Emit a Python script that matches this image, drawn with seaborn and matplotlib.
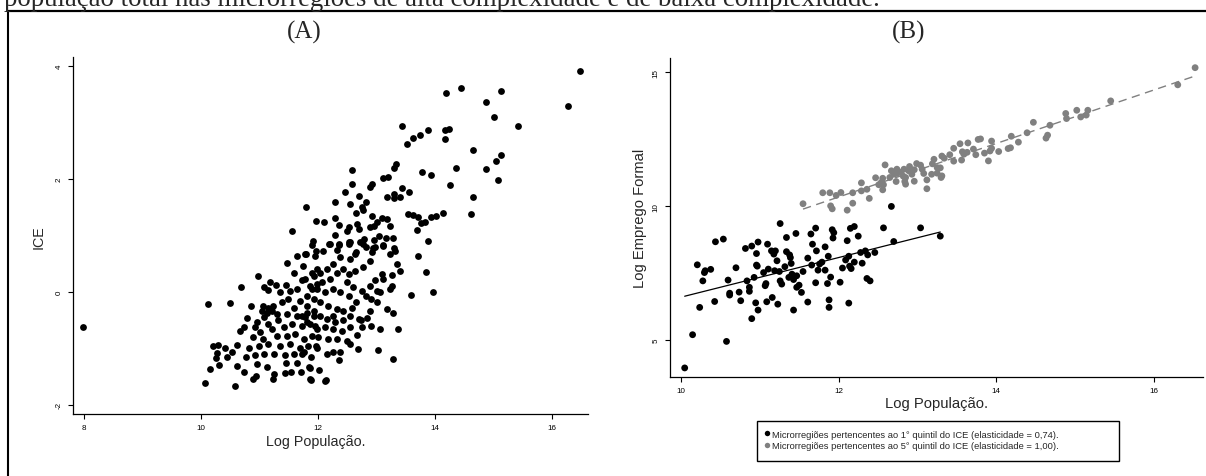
import numpy as np
import pandas as pd
import matplotlib
matplotlib.use("Agg")
import matplotlib.pyplot as plt
from matplotlib.patches import Rectangle
from matplotlib.lines import Line2D
import seaborn as sns

# ---------------- data ----------------
caption = "população total nas microrregiões de alta complexidade e de baixa complexidade."
panel_titles = ["(A)", "(B)"]
x_label = "Log População."
y_label_a = "ICE"
y_label_b = "Log Emprego Formal"
x_ticks_a = [8, 10, 12, 14, 16]
y_ticks_a = [-2, 0, 2, 4]
x_ticks_b = [10, 12, 14, 16]
y_ticks_b = [5, 10, 15]

# Panel A: (Log População, ICE)
ice_points = [
    (16.49, 3.92), (16.28, 3.30), (14.45, 3.61), (14.19, 3.52), (15.14, 3.56), (14.87, 3.36),
    (15.01, 3.09), (15.43, 2.94), (13.45, 2.93), (13.52, 2.62), (13.63, 2.73), (13.75, 2.77),
    (13.89, 2.86), (14.17, 2.86), (14.24, 2.88), (14.17, 2.71), (14.65, 2.51), (15.14, 2.42),
    (15.04, 2.32), (14.88, 2.18), (14.37, 2.19), (15.08, 1.98), (13.79, 2.13), (13.94, 2.07),
    (14.27, 1.89), (14.66, 1.68), (14.62, 1.37), (14.14, 1.40), (13.34, 2.26), (13.30, 2.19),
    (13.21, 2.04), (13.12, 2.01), (12.93, 1.91), (12.89, 1.86), (12.59, 2.15), (12.58, 1.91),
    (12.47, 1.77), (12.71, 1.69), (12.82, 1.59), (12.56, 1.55), (12.29, 1.59), (11.80, 1.51),
    (13.45, 1.84), (13.56, 1.77), (13.19, 1.68), (13.30, 1.73), (13.30, 1.66), (13.40, 1.68),
    (13.55, 1.38), (13.63, 1.36), (13.72, 1.33), (13.77, 1.22), (13.84, 1.24), (13.94, 1.32),
    (14.02, 1.34), (13.69, 1.10), (13.89, 0.90), (12.76, 1.50), (12.77, 1.44), (12.65, 1.39),
    (12.29, 1.31), (11.97, 1.25), (12.11, 1.23), (12.37, 1.18), (12.53, 1.15), (12.67, 1.20),
    (12.71, 1.12), (12.93, 1.34), (13.10, 1.30), (13.18, 1.29), (13.23, 1.16), (13.01, 1.23),
    (12.97, 1.16), (12.90, 1.14), (12.29, 1.01), (12.50, 1.08), (13.05, 0.99), (13.17, 0.95),
    (13.29, 0.96), (12.80, 0.93), (12.73, 0.89), (12.56, 0.89), (12.96, 0.92), (11.92, 0.90),
    (11.91, 0.83), (12.19, 0.85), (12.37, 0.85), (12.53, 0.85), (12.83, 0.79), (12.94, 0.78),
    (13.12, 0.81), (13.31, 0.77), (11.97, 0.72), (12.33, 0.74), (12.66, 0.70), (11.56, 1.08),
    (11.64, 0.63), (11.80, 0.66), (11.47, 0.51), (11.75, 0.46), (11.60, 0.34), (11.90, 0.34),
    (11.99, 0.41), (10.98, 0.28), (11.74, 0.20), (11.09, 0.08), (11.19, 0.18), (11.29, 0.12),
    (11.16, 0.03), (10.69, 0.08), (11.46, 0.12), (11.53, 0.02), (11.35, 0.00), (11.64, 0.05),
    (11.90, 0.05), (11.99, 0.14), (10.12, -0.22), (10.50, -0.20), (10.86, -0.25), (11.07, -0.25),
    (11.16, -0.28), (11.24, -0.25), (11.05, -0.34), (11.13, -0.37), (11.22, -0.34), (11.30, -0.40),
    (11.09, -0.44), (11.39, -0.19), (11.50, -0.13), (11.59, -0.28), (11.70, -0.16), (11.82, -0.25),
    (11.93, -0.13), (11.47, -0.40), (11.64, -0.43), (11.79, -0.45), (11.93, -0.43), (10.79, -0.47),
    (11.33, -0.51), (10.96, -0.54), (11.16, -0.57), (10.74, -0.63), (10.68, -0.69), (10.93, -0.63),
    (11.02, -0.72), (11.22, -0.66), (11.42, -0.63), (11.56, -0.57), (11.73, -0.60), (11.87, -0.57),
    (11.99, -0.66), (10.90, -0.81), (11.07, -0.84), (11.30, -0.78), (11.47, -0.78), (11.62, -0.75),
    (11.76, -0.84), (11.90, -0.78), (10.22, -0.96), (10.30, -0.95), (10.42, -0.99), (10.62, -0.95),
    (10.83, -1.00), (10.99, -0.96), (11.16, -0.93), (11.36, -0.96), (11.53, -0.93), (11.70, -0.99),
    (11.84, -0.96), (11.97, -0.96), (10.28, -1.09), (10.54, -1.07), (10.45, -1.15), (10.27, -1.18),
    (10.78, -1.16), (10.93, -1.13), (11.09, -1.10), (11.26, -1.10), (11.44, -1.13), (11.59, -1.10),
    (11.73, -1.10), (11.89, -1.16), (10.32, -1.30), (10.63, -1.31), (10.97, -1.28), (11.13, -1.34),
    (11.46, -1.26), (11.64, -1.26), (10.16, -1.37), (10.75, -1.43), (10.95, -1.50), (10.90, -1.55),
    (11.26, -1.46), (11.24, -1.54), (11.44, -1.44), (11.55, -1.42), (11.71, -1.42), (11.86, -1.34),
    (11.87, -1.55), (10.07, -1.61), (10.59, -1.67), (12.14, -1.57), (7.99, -0.63),
    (13.71, 0.63), (13.85, 0.35), (13.97, 0.00), (13.59, -0.06), (13.38, -0.66), (13.06, -0.66),
    (13.29, -1.19), (13.03, -1.03), (12.69, -1.02), (12.36, -1.21), (12.13, -1.58), (11.88, -1.56),
    (11.87, -1.35), (12.03, -1.38), (13.19, -0.31), (13.29, -0.37), (12.91, -0.60), (12.84, -0.47),
    (12.90, -0.35), (12.67, -0.77), (12.74, -0.51), (12.56, -0.93), (12.38, -1.06), (12.27, -1.07),
    (12.16, -1.10), (13.01, -0.19), (12.91, -0.13), (12.83, -0.08), (12.66, -0.19), (12.58, -0.28),
    (12.44, -0.34), (12.33, -0.31), (12.18, -0.25), (12.04, -0.19), (11.82, -0.07), (13.07, -0.01),
    (13.02, 0.02), (13.23, 0.05), (13.27, 0.11), (13.12, 0.23), (13.10, 0.31), (12.98, 0.20),
    (12.90, 0.11), (12.76, 0.02), (12.61, 0.08), (12.53, -0.07), (12.38, -0.01), (12.27, 0.05),
    (12.13, -0.01), (11.99, 0.05), (11.87, 0.11), (13.27, 0.30), (13.41, 0.37), (13.35, 0.49),
    (13.32, 0.73), (13.24, 0.67), (13.12, 0.82), (12.98, 0.80), (12.93, 0.70), (12.90, 0.55),
    (12.78, 0.43), (12.64, 0.37), (12.53, 0.31), (12.44, 0.40), (12.27, 0.49), (12.16, 0.40),
    (12.04, 0.34), (11.93, 0.28), (11.79, 0.23), (11.79, 0.67), (11.96, 0.64), (12.10, 0.73),
    (12.21, 0.85), (12.36, 0.82), (12.53, 0.88), (12.64, 0.67), (12.78, 0.85), (12.38, 0.61),
    (12.56, 0.58), (12.50, 0.17), (12.21, 0.23), (12.33, 0.34), (12.07, 0.17), (12.04, -0.43),
    (12.16, -0.48), (12.30, -0.54), (12.44, -0.51), (12.56, -0.43), (12.70, -0.48), (12.76, -0.63),
    (12.56, -0.63), (12.41, -0.69), (12.27, -0.66), (12.13, -0.63), (11.96, -0.60), (11.82, -0.54),
    (12.01, -0.81), (12.18, -0.84), (12.33, -0.84), (12.50, -0.87), (11.99, -0.99), (11.76, -1.07),
    (11.82, -0.37), (11.93, -0.34), (12.27, -0.43), (11.73, -0.43),
]

# Panel B: (Log População, Log Emprego Formal), 1st quintile of ICE
q1_points = [
    (10.05, 3.96), (10.15, 5.20), (10.58, 4.95), (10.24, 6.22), (10.43, 6.44), (10.21, 7.81),
    (10.28, 7.21), (10.30, 7.52), (10.31, 7.59), (10.38, 7.64), (10.44, 8.67), (10.54, 8.77),
    (10.60, 7.24), (10.62, 6.75), (10.62, 6.68), (10.70, 7.70), (10.74, 6.79), (10.76, 6.47),
    (10.82, 8.42), (10.84, 7.21), (10.87, 6.97), (10.87, 6.82), (10.90, 5.80), (10.90, 8.51),
    (10.93, 7.34), (10.95, 6.39), (10.96, 8.23), (10.96, 7.80), (10.97, 7.76), (10.98, 8.66),
    (10.98, 6.12), (11.05, 7.52), (11.07, 7.03), (11.08, 7.11), (11.09, 6.43), (11.10, 8.58),
    (11.11, 7.65), (11.15, 8.33), (11.16, 6.59), (11.18, 8.21), (11.20, 8.33), (11.19, 7.59),
    (11.22, 7.96), (11.23, 6.34), (11.25, 7.56), (11.26, 9.35), (11.26, 7.21), (11.28, 7.09),
    (11.32, 7.74), (11.34, 8.30), (11.34, 8.83), (11.37, 7.34), (11.38, 8.18), (11.39, 8.08),
    (11.40, 7.86), (11.41, 7.46), (11.43, 7.26), (11.43, 6.12), (11.46, 8.98), (11.47, 7.40),
    (11.47, 6.97), (11.50, 7.05), (11.53, 6.78), (11.55, 7.56), (11.61, 6.42), (11.61, 8.06),
    (11.65, 8.96), (11.66, 7.80), (11.67, 8.58), (11.71, 7.14), (11.71, 9.18), (11.72, 8.33),
    (11.74, 7.61), (11.76, 7.84), (11.79, 7.91), (11.83, 7.61), (11.83, 8.48), (11.86, 7.11),
    (11.87, 8.13), (11.88, 6.22), (11.88, 6.50), (11.90, 7.35), (11.92, 9.12), (11.93, 8.81),
    (11.94, 9.01), (12.02, 7.16), (12.05, 7.69), (12.09, 7.99), (12.11, 8.71), (12.13, 6.38),
    (12.13, 8.13), (12.15, 9.17), (12.14, 7.76), (12.16, 7.67), (12.20, 9.24), (12.20, 7.91),
    (12.25, 8.88), (12.28, 8.27), (12.30, 7.87), (12.34, 8.33), (12.37, 8.18), (12.36, 7.30),
    (12.40, 7.21), (12.46, 8.27), (12.67, 9.99), (13.04, 9.19), (13.29, 8.88), (12.70, 8.68),
    (12.57, 9.19),
]

# Panel B: 5th quintile of ICE
q5_points = [
    (16.52, 15.17), (16.30, 14.53), (15.45, 13.93), (15.16, 13.58), (15.14, 13.40), (15.07, 13.33),
    (15.02, 13.58), (14.89, 13.27), (14.88, 13.46), (14.68, 13.02), (14.65, 12.65), (14.63, 12.54),
    (14.47, 13.13), (14.39, 12.74), (14.28, 12.39), (14.19, 12.61), (14.18, 12.18), (14.15, 12.15),
    (14.03, 12.04), (13.94, 12.43), (13.94, 12.16), (13.90, 11.69), (13.85, 11.98), (13.80, 12.51),
    (13.77, 12.49), (13.74, 11.92), (13.71, 12.13), (13.64, 12.36), (13.63, 12.01), (13.57, 12.03),
    (13.56, 11.72), (13.54, 12.33), (13.46, 12.16), (13.46, 11.68), (13.41, 11.92), (13.34, 11.79),
    (13.31, 11.87), (13.29, 11.43), (13.31, 11.13), (13.30, 11.07), (13.25, 11.23), (13.21, 11.75),
    (13.19, 11.58), (13.18, 11.19), (13.12, 10.98), (13.12, 10.65), (13.08, 11.22), (13.04, 11.53),
    (12.99, 11.59), (12.96, 11.36), (12.96, 10.93), (12.93, 11.19), (12.90, 11.48), (12.89, 11.32),
    (12.84, 10.92), (12.82, 11.12), (12.79, 11.26), (12.74, 11.38), (12.73, 10.92), (12.70, 11.19),
    (12.67, 11.32), (12.65, 11.07), (12.59, 11.54), (12.57, 10.80), (12.56, 10.61), (12.56, 11.04),
    (12.54, 10.88), (12.51, 10.80), (12.47, 11.06), (12.39, 10.29), (12.36, 10.63), (12.29, 10.87),
    (12.29, 10.57), (12.18, 10.50), (12.18, 10.11), (12.11, 9.85), (12.03, 10.51), (11.97, 10.40),
    (11.92, 9.90), (11.90, 10.01), (11.89, 10.50), (11.80, 10.50), (11.55, 10.09), (12.74, 11.22),
    (12.83, 11.38), (12.85, 11.07), (13.06, 11.38), (13.25, 11.44), (13.59, 11.94), (13.92, 12.06),
    (12.85, 10.82),
]

group_labels = [
    "Microrregiões pertencentes ao 1° quintil do ICE (elasticidade = 0,74).",
    "Microrregiões pertencentes ao 5° quintil do ICE (elasticidade = 1,00).",
]
elasticities = [0.74, 1.00]
intercepts = [-0.80, -1.66]

# ---------------- styling ----------------
sns.set_theme(style="ticks")
SANS = ["Liberation Sans", "DejaVu Sans"]
SERIF = ["Liberation Serif", "DejaVu Serif"]
plt.rcParams["font.family"] = SANS
plt.rcParams["axes.linewidth"] = 0.9
plt.rcParams["xtick.major.width"] = 0.8
plt.rcParams["ytick.major.width"] = 0.8
plt.rcParams["xtick.color"] = "black"
plt.rcParams["ytick.color"] = "black"
plt.rcParams["axes.edgecolor"] = "black"

W, H = 1206, 477
fig = plt.figure(figsize=(W / 100, H / 100), dpi=100)
fig.patch.set_facecolor("white")

DOT = 24


def frac_box(x0, y0, x1, y1):
    return [x0 / W, 1 - y1 / H, (x1 - x0) / W, (y1 - y0) / H]


def style_axes(ax, xt, yt):
    sns.despine(ax=ax)
    ax.set_xticks(xt)
    ax.set_yticks(yt)
    ax.set_xticklabels([str(v) for v in xt])
    ax.set_yticklabels([str(v) for v in yt])
    ax.tick_params(axis="both", direction="out", length=3.8, labelsize=5.8, pad=3.4,
                   colors="black")
    ax.tick_params(axis="y", labelrotation=90)
    for lab in ax.get_yticklabels():
        lab.set_va("center")
    ax.grid(False)
    ax.set_facecolor("white")


# ---------------- Panel A ----------------
axA = fig.add_axes(frac_box(73, 58.3, 588, 415))
df_a = pd.DataFrame(ice_points, columns=["logpop", "ice"])
sns.scatterplot(data=df_a, x="logpop", y="ice", ax=axA, color="black", s=DOT,
                linewidth=0, legend=False)
axA.set_xlim(7.82, 16.62)
axA.set_ylim(-2.168, 4.156)
style_axes(axA, x_ticks_a, y_ticks_a)
axA.set_xlabel(x_label, fontsize=10.3, va="center")
axA.xaxis.set_label_coords((316 - 73) / 515, -(441.7 - 415) / 356.7)
axA.set_ylabel(y_label_a, fontsize=10.3, va="center")
axA.yaxis.set_label_coords(-(73 - 38.5) / 515, 0.5)

# ---------------- Panel B ----------------
axB = fig.add_axes(frac_box(669.7, 59.3, 1203, 378.3))
df_q1 = pd.DataFrame(q1_points, columns=["logpop", "logemp"])
df_q1["grupo"] = group_labels[0]
df_q5 = pd.DataFrame(q5_points, columns=["logpop", "logemp"])
df_q5["grupo"] = group_labels[1]
df_b = pd.concat([df_q1, df_q5], ignore_index=True)
palette = {group_labels[0]: "black", group_labels[1]: "#808080"}
sns.scatterplot(data=df_b, x="logpop", y="logemp", hue="grupo", palette=palette,
                s=DOT, linewidth=0, ax=axB, legend=True)

# fitted lines from the reported elasticities
line_rows = []
for lab, df_g, b, a in zip(group_labels, [df_q1, df_q5], elasticities, intercepts):
    for xv in (df_g["logpop"].min(), df_g["logpop"].max()):
        line_rows.append({"grupo": lab, "logpop": xv, "fit": a + b * xv})
df_lines = pd.DataFrame(line_rows)
sns.lineplot(data=df_lines[df_lines["grupo"] == group_labels[0]], x="logpop", y="fit",
             color="black", linewidth=0.9, ax=axB, legend=False)
sns.lineplot(data=df_lines[df_lines["grupo"] == group_labels[1]], x="logpop", y="fit",
             color="#808080", linewidth=1.0, ax=axB, legend=False,
             dashes=False, linestyle=(0, (6, 4)))

axB.set_xlim(9.86, 16.62)
axB.set_ylim(3.61, 15.52)
style_axes(axB, x_ticks_b, y_ticks_b)
axB.set_xlabel(x_label, fontsize=10.6, va="center")
axB.xaxis.set_label_coords(0.501, -(404.3 - 378.3) / 319)
axB.set_ylabel(y_label_b, fontsize=10.6, va="center")
axB.yaxis.set_label_coords(-(669.7 - 640) / 533.3, 0.5)

# legend below panel B
handles, labels = axB.get_legend_handles_labels()
axB.legend(handles, labels, loc="center left",
           bbox_to_anchor=(764.5 / W, 1 - 441 / H), bbox_transform=fig.transFigure,
           frameon=False, fontsize=6.75, handlelength=0.5, handletextpad=0.35,
           borderpad=0, borderaxespad=0, labelspacing=0.28, markerscale=0.8)
fig.add_artist(Rectangle((756.7 / W, 1 - 461.7 / H), (1119.3 - 756.7) / W,
                         (461.7 - 422.3) / H, transform=fig.transFigure,
                         fill=False, edgecolor="black", linewidth=1.0))

# ---------------- page frame and headers ----------------
fig.add_artist(Line2D([6.8 / W, 1.0], [1 - 12.3 / H, 1 - 12.3 / H],
                      transform=fig.transFigure, color="black", linewidth=1.6))
fig.add_artist(Line2D([7.7 / W, 7.7 / W], [0, 1 - 12.3 / H],
                      transform=fig.transFigure, color="black", linewidth=1.5))
fig.text(304.5 / W, 1 - 32.5 / H, panel_titles[0], family=SERIF, fontsize=18,
         ha="center", va="center")
fig.text(908.5 / W, 1 - 32.5 / H, panel_titles[1], family=SERIF, fontsize=18,
         ha="center", va="center")

cap = fig.text(4 / W, 1 - 5.5 / H, caption, family=SERIF, fontsize=18,
               ha="left", va="baseline")
fig.canvas.draw()
r = fig.canvas.get_renderer()
wpx = cap.get_window_extent(renderer=r).width
cap.set_fontsize(18 * 878 / wpx)

fig.savefig("out.png", dpi=100, facecolor="white")
